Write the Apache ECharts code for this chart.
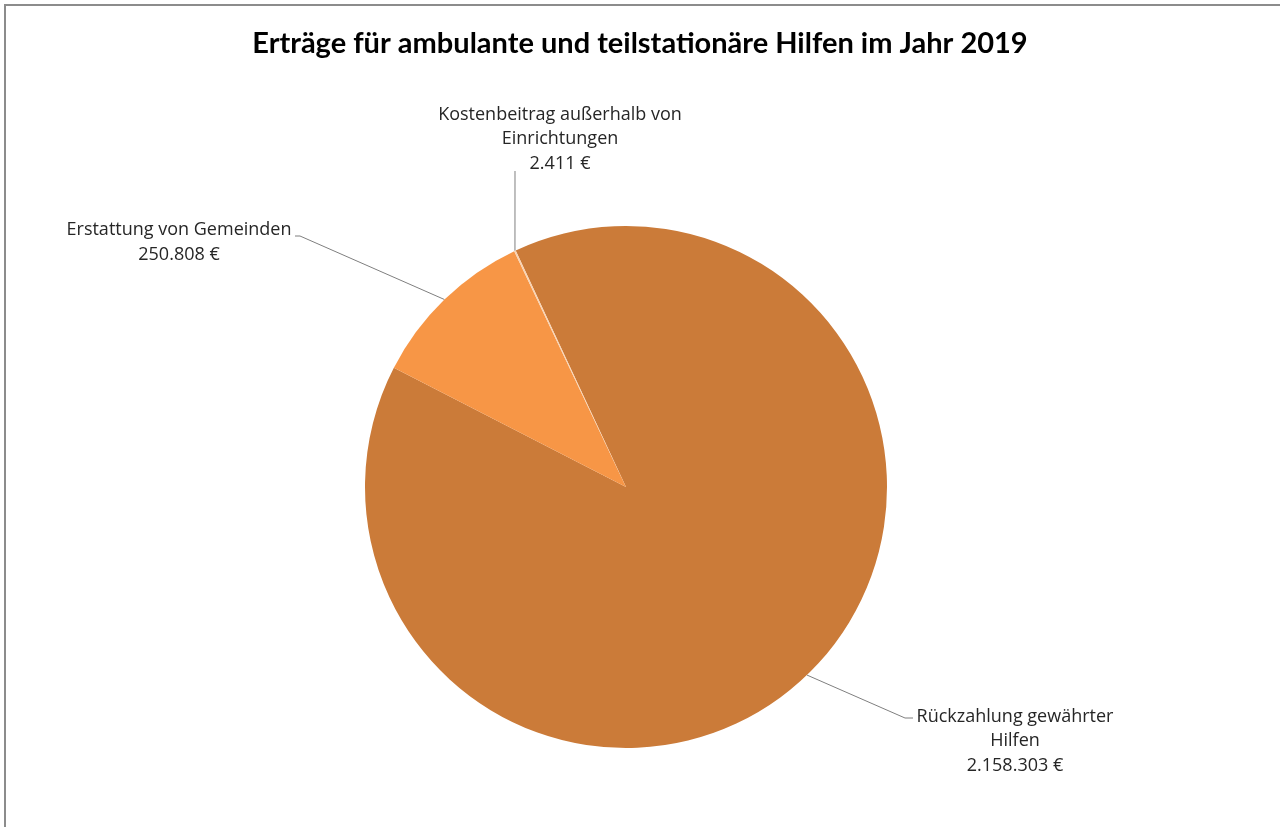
<!DOCTYPE html>
<html>
<head>
<meta charset="utf-8">
<script src="https://cdn.jsdelivr.net/npm/echarts@6/dist/echarts.min.js"></script>
<style>
  html, body { margin: 0; padding: 0; background: #fff; }
  #frame { position: absolute; left: 4px; top: 4px; width: 1276px; height: 823px;
           border-top: 2px solid #8c8c8c; border-left: 2px solid #8c8c8c; box-sizing: border-box; }
  #chart { position: absolute; left: 0; top: 0; width: 1280px; height: 827px; }
</style>
</head>
<body>
<div id="frame"></div>
<div id="chart"></div>
<script>
const titleText = 'Erträge für ambulante und teilstationäre Hilfen im Jahr 2019';
const categories = ['Rückzahlung gewährter\nHilfen', 'Erstattung von Gemeinden', 'Kostenbeitrag außerhalb von\nEinrichtungen'];
const values = [2158303, 250808, 2411];
const colors = ['#CB7B39', '#F79646', '#F9D2B0'];

function fmtDE(n) {
  return String(n).replace(/\B(?=(\d{3})+(?!\d))/g, '.');
}

// label anchor (centre) and leader-line bends, in chart pixels
const labelCfg = [
  { x: 1015, y: 741, bend: [[905, 718], [913, 718]] },
  { x: 179, y: 242.5, bend: [[300, 236], [295, 236]] },
  { x: 560, y: 139, bend: [[515, 171]] }
];

const chart = echarts.init(document.getElementById('chart'), null, { renderer: 'canvas' });
chart.setOption({
  backgroundColor: 'transparent',
  animation: false,
  title: {
    text: titleText,
    left: 'center',
    top: 24,
    textStyle: { fontFamily: 'Lato', fontWeight: 'bold', fontSize: 29, color: '#000' }
  },
  series: [{
    type: 'pie',
    center: [626, 487],
    radius: 261,
    startAngle: 115,
    clockwise: true,
    avoidLabelOverlap: false,
    data: categories.map((c, i) => ({ name: c, value: values[i], itemStyle: { color: colors[i] } })),
    itemStyle: { borderWidth: 0 },
    label: {
      show: true,
      position: 'outside',
      formatter: p => p.name + '\n' + fmtDE(p.value) + ' €',
      fontFamily: 'Open Sans',
      fontSize: 18,
      lineHeight: 24.5,
      color: '#262626',
      align: 'center'
    },
    labelLine: { show: true, lineStyle: { color: '#7f7f7f', width: 1 } },
    labelLayout: function (p) {
      const cfg = labelCfg[p.dataIndex];
      const start = p.labelLinePoints ? p.labelLinePoints[0] : null;
      const out = { x: cfg.x, y: cfg.y, align: 'center', verticalAlign: 'middle' };
      if (start) out.labelLinePoints = [start].concat(cfg.bend);
      return out;
    }
  }]
});
</script>
</body>
</html>
